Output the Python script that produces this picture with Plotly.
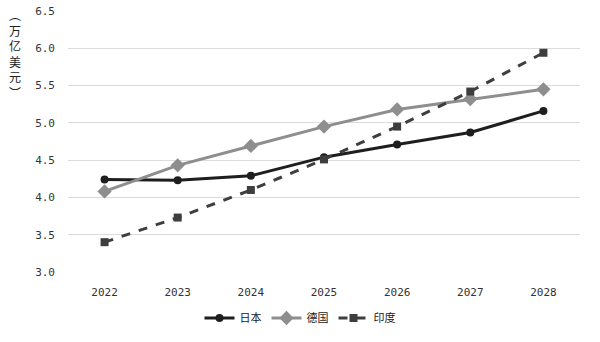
import plotly.graph_objects as go

years = ["2022", "2023", "2024", "2025", "2026", "2027", "2028"]
japan = [4.24, 4.23, 4.29, 4.54, 4.71, 4.87, 5.16]
germany = [4.08, 4.43, 4.69, 4.95, 5.18, 5.32, 5.45]
india = [3.40, 3.73, 4.10, 4.51, 4.95, 5.42, 5.94]
y_ticks = [3.0, 3.5, 4.0, 4.5, 5.0, 5.5, 6.0, 6.5]
y_tick_labels = ["3.0", "3.5", "4.0", "4.5", "5.0", "5.5", "6.0", "6.5"]
y_title = "︵万亿美元︶"

fig = go.Figure()
fig.add_trace(go.Scatter(x=years, y=japan, name="日本", mode="lines+markers",
                         line=dict(color="#1e1e1e", width=3),
                         marker=dict(symbol="circle", size=8, color="#1e1e1e")))
fig.add_trace(go.Scatter(x=years, y=germany, name="德国", mode="lines+markers",
                         line=dict(color="#8e8e8e", width=3),
                         marker=dict(symbol="diamond", size=11, color="#8e8e8e")))
fig.add_trace(go.Scatter(x=years, y=india, name="印度", mode="lines+markers",
                         line=dict(color="#3e3e3e", width=3, dash="dash"),
                         marker=dict(symbol="square", size=8, color="#3e3e3e")))

fig.update_layout(
    width=600, height=342,
    margin=dict(l=68, r=20, t=11, b=70, autoexpand=False),
    plot_bgcolor="white", paper_bgcolor="white",
    font=dict(family="Noto Sans CJK SC, DejaVu Sans", size=11, color="#333333"),
    showlegend=True,
    legend=dict(orientation="h", x=0.5, xanchor="center", xref="container",
                y=1 - 318 / 342, yanchor="middle", yref="container",
                font=dict(size=11, color="#222222"),
                entrywidth=22, entrywidthmode="pixels"),
    xaxis=dict(type="category", range=[-0.5, 6.5], showgrid=False, ticks="", showline=False,
               automargin=False, ticklabelstandoff=12,
               tickfont=dict(family="DejaVu Sans Mono", size=11, color="#333333")),
    yaxis=dict(range=[3.0, 6.5], tickvals=y_ticks, ticktext=y_tick_labels,
               showgrid=True, gridcolor="#dcdcdc", gridwidth=1, zeroline=False,
               showline=False, ticks="", ticklabelstandoff=12, automargin=False,
               tickfont=dict(family="DejaVu Sans Mono", size=11, color="#333333")),
)

fig.add_annotation(text="<br>".join(list(y_title)), xref="paper", yref="paper",
                   x=(15 - 68) / 512, y=(272 - 4) / 261, xanchor="center", yanchor="top",
                   showarrow=False, font=dict(size=12, color="#222222"), align="center")

fig.write_html("out.html")
